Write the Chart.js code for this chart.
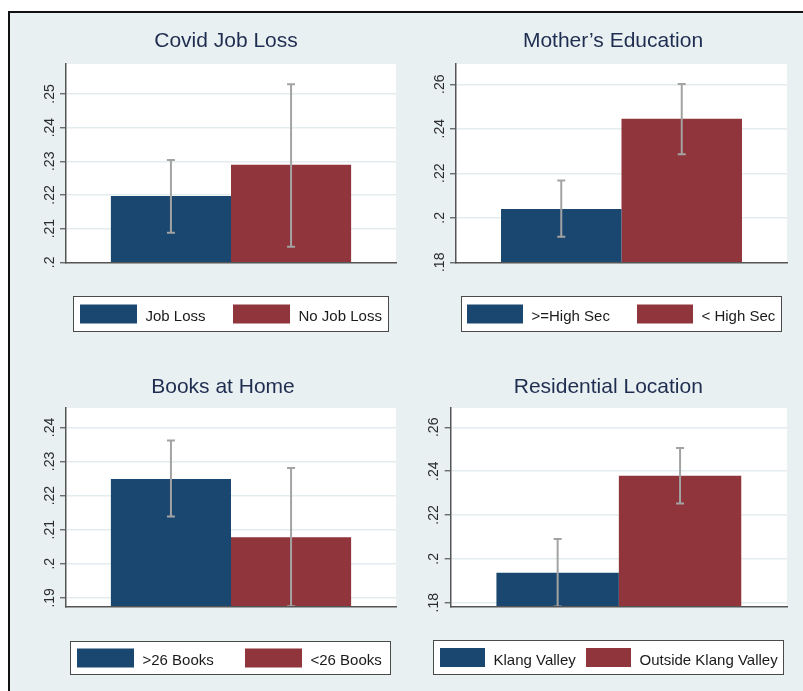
<!DOCTYPE html>
<html>
<head>
<meta charset="utf-8">
<script src="https://cdn.jsdelivr.net/npm/chart.js@4.4.1/dist/chart.umd.min.js"></script>
<style>
html,body{margin:0;padding:0;background:#ffffff;}
#page{position:relative;width:803px;height:691px;overflow:hidden;background:#ffffff;}
#frame{position:absolute;left:8px;top:11px;right:0;bottom:0;background:#E8F0F2;border-left:2px solid #111;border-top:2px solid #111;}
canvas{position:absolute;left:0;top:0;}
</style>
</head>
<body>
<div id="page">
  <div id="frame"></div>
  <canvas id="c1" width="803" height="691"></canvas>
  <canvas id="c2" width="803" height="691"></canvas>
  <canvas id="c3" width="803" height="691"></canvas>
  <canvas id="c4" width="803" height="691"></canvas>
</div>
<script>
// ---------------- data ----------------
const covidGroups = ['Job Loss', 'No Job Loss'];
const covidMeans  = [0.2197, 0.2290];
const covidLower  = [0.2088, 0.2046];
const covidUpper  = [0.2304, 0.2529];
const covidTicks  = [0.20, 0.21, 0.22, 0.23, 0.24, 0.25];
const covidTickLabels = ['.2', '.21', '.22', '.23', '.24', '.25'];

const motherGroups = ['>=High Sec', '< High Sec'];
const motherMeans  = [0.2040, 0.2445];
const motherLower  = [0.1915, 0.2285];
const motherUpper  = [0.2167, 0.2601];
const motherTicks  = [0.18, 0.20, 0.22, 0.24, 0.26];
const motherTickLabels = ['.18', '.2', '.22', '.24', '.26'];

const booksGroups = ['>26 Books', '<26 Books'];
const booksMeans  = [0.2249, 0.2078];
const booksLower  = [0.2139, 0.1875];
const booksUpper  = [0.2362, 0.2281];
const booksTicks  = [0.19, 0.20, 0.21, 0.22, 0.23, 0.24];
const booksTickLabels = ['.19', '.2', '.21', '.22', '.23', '.24'];

const locationGroups = ['Klang Valley', 'Outside Klang Valley'];
const locationMeans  = [0.1937, 0.2379];
const locationLower  = [0.1783, 0.2252];
const locationUpper  = [0.2091, 0.2506];
const locationTicks  = [0.18, 0.20, 0.22, 0.24, 0.26];
const locationTickLabels = ['.18', '.2', '.22', '.24', '.26'];

// ---------------- style ----------------
const FONT = "'Liberation Sans', Arial, Helvetica, sans-serif";
const BAR_COLORS = ['#1A476F', '#90353B'];
const AXIS = '#555555';
const GRID = '#E3ECEE';
const ERR = '#A3A3A3';
const TITLE_COLOR = '#1F2D50';
const W = 803, H = 691;

const panels = [
  { id:'c1', title:'Covid Job Loss', groups:covidGroups, means:covidMeans, lo:covidLower, hi:covidUpper,
    ticks:covidTicks, tickLabels:covidTickLabels, ymin:0.2, ymax:0.2589,
    plot:{l:66, t:64, r:396, b:262.3}, titleX:226, titleY:41.5,
    legend:{l:73, t:296, r:389, b:332, sw:57, s1:80, s2:233} },
  { id:'c2', title:'Mother\u2019s Education', groups:motherGroups, means:motherMeans, lo:motherLower, hi:motherUpper,
    ticks:motherTicks, tickLabels:motherTickLabels, ymin:0.18, ymax:0.2691,
    plot:{l:456, t:64, r:787, b:262.3}, titleX:613, titleY:41.5,
    legend:{l:461, t:296, r:782, b:332, sw:56, s1:467, s2:637} },
  { id:'c3', title:'Books at Home', groups:booksGroups, means:booksMeans, lo:booksLower, hi:booksUpper,
    ticks:booksTicks, tickLabels:booksTickLabels, ymin:0.1874, ymax:0.2457,
    plot:{l:66, t:408, r:396, b:606.7}, titleX:223, titleY:387.5,
    legend:{l:70, t:641, r:391, b:675, sw:57, s1:77, s2:245} },
  { id:'c4', title:'Residential Location', groups:locationGroups, means:locationMeans, lo:locationLower, hi:locationUpper,
    ticks:locationTicks, tickLabels:locationTickLabels, ymin:0.1782, ymax:0.2688,
    plot:{l:450.7, t:408, r:787, b:606.7}, titleX:608.3, titleY:387.5,
    legend:{l:433, t:640, r:784, b:675, sw:45, s1:440, s2:586} }
];

function makeDeco(p) {
  return {
    id: 'deco_' + p.id,
    beforeDraw(chart) {
      const a = chart.chartArea, ctx = chart.ctx;
      ctx.save();
      ctx.fillStyle = '#ffffff';
      ctx.fillRect(a.left, a.top, a.right - a.left, a.bottom - a.top);
      ctx.restore();
    },
    afterDatasetsDraw(chart) {
      const a = chart.chartArea, ctx = chart.ctx, ys = chart.scales.y;
      ctx.save();
      ctx.beginPath();
      ctx.rect(a.left, a.top, a.right - a.left, a.bottom - a.top);
      ctx.clip();
      ctx.strokeStyle = ERR;
      ctx.lineWidth = 2;
      chart.data.datasets.forEach((ds, i) => {
        const bar = chart.getDatasetMeta(i).data[0];
        const x = bar.x;
        const y1 = ys.getPixelForValue(p.lo[i]);
        const y2 = ys.getPixelForValue(p.hi[i]);
        ctx.beginPath();
        ctx.moveTo(x, y1); ctx.lineTo(x, y2);
        ctx.moveTo(x - 4, y1); ctx.lineTo(x + 4, y1);
        ctx.moveTo(x - 4, y2); ctx.lineTo(x + 4, y2);
        ctx.stroke();
      });
      ctx.restore();
    },
    afterDraw(chart) {
      const ctx = chart.ctx, ys = chart.scales.y, a = chart.chartArea;
      // rotated y tick labels
      ctx.save();
      ctx.fillStyle = '#2b2b2b';
      ctx.font = '14px ' + FONT;
      ctx.textAlign = 'center';
      ctx.textBaseline = 'alphabetic';
      p.ticks.forEach((v, i) => {
        const y = ys.getPixelForValue(v);
        ctx.save();
        ctx.translate(a.left - 12.5, y);
        ctx.rotate(-Math.PI / 2);
        ctx.fillText(p.tickLabels[i], 0, 0);
        ctx.restore();
      });
      ctx.restore();
      // legend
      const L = p.legend;
      ctx.save();
      ctx.fillStyle = '#ffffff';
      ctx.fillRect(L.l, L.t, L.r - L.l, L.b - L.t);
      ctx.strokeStyle = '#4a4a4a';
      ctx.lineWidth = 1;
      ctx.strokeRect(L.l + 0.5, L.t + 0.5, L.r - L.l - 1, L.b - L.t - 1);
      const cy = (L.t + L.b) / 2;
      ctx.font = '15px ' + FONT;
      ctx.textAlign = 'left';
      ctx.textBaseline = 'alphabetic';
      [L.s1, L.s2].forEach((sx, i) => {
        ctx.fillStyle = BAR_COLORS[i];
        ctx.fillRect(sx, cy - 9.5, L.sw, 19);
        ctx.fillStyle = '#1a1a1a';
        ctx.fillText(p.groups[i], sx + L.sw + 8.5, cy + 7);
      });
      ctx.restore();
    }
  };
}

panels.forEach(p => {
  const yw = p.plot.l + p.plot.r - 2 * p.titleX;
  const titleTopPad = p.titleY - 12.6;
  const titleBottomPad = p.plot.t - titleTopPad - 25.2;
  new Chart(document.getElementById(p.id), {
    type: 'bar',
    data: {
      labels: [''],
      datasets: p.groups.map((g, i) => ({
        label: g,
        data: [p.means[i]],
        backgroundColor: BAR_COLORS[i],
        borderWidth: 0,
        categoryPercentage: 0.728,
        barPercentage: 1
      }))
    },
    options: {
      responsive: false,
      animation: false,
      devicePixelRatio: 1,
      layout: { padding: { left: p.plot.l - yw, right: W - p.plot.r, top: 0, bottom: H - p.plot.b } },
      plugins: {
        legend: { display: false },
        tooltip: { enabled: false },
        title: {
          display: true, text: p.title, color: TITLE_COLOR,
          font: { family: FONT, size: 21, weight: 'normal', lineHeight: 1.2 },
          padding: { top: titleTopPad, bottom: titleBottomPad }
        }
      },
      scales: {
        x: {
          display: true,
          grid: { display: false, drawTicks: false },
          ticks: { display: false },
          border: { display: true, color: AXIS, width: 1.5, z: 1 },
          afterFit: s => { s.height = 0; }
        },
        y: {
          min: p.ymin, max: p.ymax,
          afterBuildTicks: s => { s.ticks = p.ticks.map(v => ({ value: v })); },
          ticks: { display: false },
          grid: { color: GRID, lineWidth: 1.5, drawTicks: true, tickLength: 6, tickColor: AXIS, tickWidth: 1.2 },
          border: { display: true, color: AXIS, width: 1.5, z: 1 },
          afterFit: s => { s.width = yw; }
        }
      }
    },
    plugins: [makeDeco(p)]
  });
});
</script>
</body>
</html>
